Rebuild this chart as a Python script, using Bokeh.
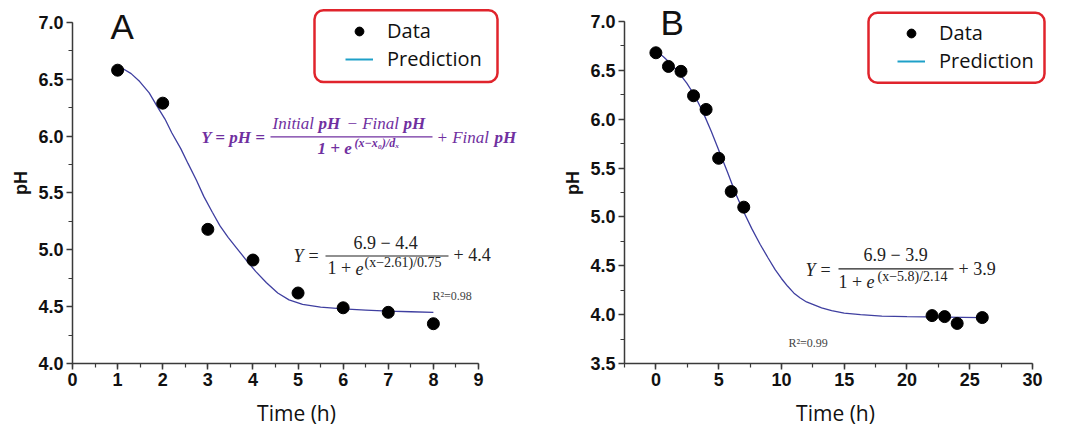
from bokeh.plotting import figure
from bokeh.models import (Label, Legend, LegendItem, Range1d, SingleIntervalTicker,
                          NumeralTickFormatter, BoxAnnotation)
from bokeh.layouts import row
from bokeh.embed import file_html
from bokeh.resources import INLINE

nan = float("nan")

# ---------------- data ----------------
time_a = [1, 2, 3, 4, 5, 6, 7, 8]
ph_a = [6.58, 6.29, 5.18, 4.91, 4.62, 4.49, 4.45, 4.35]
fit_time_a = [1.0, 1.13, 1.3, 1.49, 1.7, 1.88, 2.05, 2.2, 2.4, 2.56, 2.75, 2.91, 3.1, 3.27,
              3.45, 3.63, 3.85, 4.06, 4.3, 4.55, 4.8, 5.1, 5.5, 6.0, 6.5, 7.0, 7.5, 8.0]
fit_ph_a = [6.62, 6.59, 6.55, 6.48, 6.38, 6.26, 6.15, 6.03, 5.89, 5.76, 5.61, 5.47, 5.33, 5.21,
            5.11, 5.02, 4.91, 4.81, 4.71, 4.62, 4.56, 4.52, 4.495, 4.48, 4.47, 4.46, 4.455, 4.45]

time_b = [0, 1, 2, 3, 4, 5, 6, 7, 22, 23, 24, 26]
ph_b = [6.68, 6.54, 6.49, 6.24, 6.10, 5.60, 5.26, 5.10, 3.99, 3.98, 3.91, 3.97]
fit_time_b = [0, 0.6, 1.17, 1.8, 2.46, 3.1, 3.76, 4.4, 5.05, 5.7, 6.35, 7.0, 7.64, 8.3, 8.94,
              9.5, 10.0, 10.5, 11.0, 11.5, 12.0, 12.6, 13.2, 14.0, 15.0, 16.3, 18.0, 20.0, 23.0, 26.0]
fit_ph_b = [6.70, 6.64, 6.57, 6.48, 6.37, 6.24, 6.07, 5.88, 5.67, 5.46, 5.24, 5.05, 4.88, 4.72, 4.58,
            4.46, 4.37, 4.29, 4.22, 4.17, 4.13, 4.10, 4.07, 4.04, 4.015, 4.0, 3.985, 3.98, 3.975, 3.97]

legend_labels = ["Data", "Prediction"]
panel_letters = ["A", "B"]

# ---------------- styles ----------------
CURVE = "#3f3fa0"
AXIS = "#3a3a3a"
PURPLE = "#7030a0"
EQ = "#222222"
LEG_LINE = "#1ea0c8"
LEG_BORDER = "#e0242c"
SERIF = "Liberation Serif"
MID = {"Liberation Serif": 0.3375, "Open Sans": 0.388, "Liberation Sans": 0.3465}

# reference frame geometry (px) used to place annotations
FA = (72, 478, 22.3, 364.3, 0, 9, 4.0, 7.0)
FB = (624, 1032, 20.7, 362.7, -2.5, 30, 3.5, 7.0)


def to_data(F, px, py):
    left, right, top, bottom, x0, x1, y0, y1 = F
    return (x0 + (px - left) / (right - left) * (x1 - x0),
            y1 - (py - top) / (bottom - top) * (y1 - y0))


def lab(p, F, px, py, text, size, color=EQ, font=SERIF, style="normal", align="left"):
    # py is the reference baseline; convert to text middle
    x, y = to_data(F, px, py - MID[font] * size)
    p.add_layout(Label(x=x, y=y, text=text, text_font=font, text_font_size=f"{size}px",
                       text_font_style=style, text_color=color, text_align=align,
                       text_baseline="middle"))


def bar(p, F, px0, px1, py, color=EQ, width=1.2):
    x0, y = to_data(F, px0, py)
    x1, _ = to_data(F, px1, py)
    p.segment(x0=[x0], y0=[y], x1=[x1], y1=[y], line_color=color, line_width=width)


H = 433


def make_panel(width, f_left, f_right, f_top, f_bottom, x0, x_ppu, y0, y_ppu, xb, yb, x_interval):
    x_end = x0 + (f_right - f_left) / x_ppu
    y_end = y0 + (f_bottom - f_top) / y_ppu
    p = figure(width=width, height=H, x_range=Range1d(x0, x_end), y_range=Range1d(y0, y_end),
               output_backend="svg", toolbar_location=None,
               min_border_left=f_left, min_border_right=width - f_right,
               min_border_top=f_top, min_border_bottom=H - f_bottom)
    p.grid.visible = False
    p.outline_line_color = None
    p.background_fill_color = "white"
    p.border_fill_color = "white"
    p.xaxis.bounds = xb
    p.yaxis.bounds = yb
    p.xaxis.ticker = SingleIntervalTicker(interval=x_interval, num_minor_ticks=2)
    p.yaxis.ticker = SingleIntervalTicker(interval=0.5, num_minor_ticks=2)
    p.xaxis.formatter = NumeralTickFormatter(format="0")
    p.yaxis.formatter = NumeralTickFormatter(format="0.0")
    for ax in (p.xaxis[0], p.yaxis[0]):
        ax.axis_line_color = AXIS
        ax.axis_line_width = 1.5
        ax.major_tick_line_color = AXIS
        ax.major_tick_line_width = 1.5
        ax.minor_tick_line_color = AXIS
        ax.minor_tick_line_width = 1.2
        ax.major_tick_in = 0
        ax.major_tick_out = 6
        ax.minor_tick_in = 0
        ax.minor_tick_out = 4
        ax.major_label_text_font = "Liberation Sans"
        ax.major_label_text_font_style = "bold"
        ax.major_label_text_font_size = "18px"
        ax.major_label_text_color = "#111111"
        ax.major_label_standoff = 3
    p.xaxis.axis_label = "Time (h)"
    p.xaxis.axis_label_text_font = "Open Sans"
    p.xaxis.axis_label_text_font_style = "normal"
    p.xaxis.axis_label_text_font_size = "21px"
    p.xaxis.axis_label_text_color = "#111111"
    p.xaxis.axis_label_standoff = 10
    p.yaxis.axis_label = "pH"
    p.yaxis.axis_label_text_font = "Liberation Sans"
    p.yaxis.axis_label_text_font_style = "bold"
    p.yaxis.axis_label_text_font_size = "18px"
    p.yaxis.axis_label_text_color = "#111111"
    p.yaxis.axis_label_standoff = 4
    return p


def add_legend(p, F, box, vx, vy):
    # rounded red frame drawn as a box annotation, legend entries on top of it
    l, t = to_data(F, box[0], box[1])
    r, b = to_data(F, box[2], box[3])
    frame = BoxAnnotation(left=l, right=r, top=t, bottom=b, fill_color="white", fill_alpha=1.0,
                          line_color=LEG_BORDER, line_alpha=1.0, line_width=2.5)
    try:
        frame.border_radius = 9
    except Exception:
        pass
    p.add_layout(frame)
    dot = p.scatter([nan], [nan], size=9, color="black")
    ln = p.line([nan], [nan], line_color=LEG_LINE, line_width=2)
    legend = Legend(items=[LegendItem(label=legend_labels[0], renderers=[dot]),
                           LegendItem(label=legend_labels[1], renderers=[ln])],
                    location=(vx, vy), orientation="vertical", padding=0, spacing=1,
                    margin=0, glyph_width=28, glyph_height=22, label_height=22,
                    label_standoff=14, label_text_font="Open Sans",
                    label_text_font_size="20px", label_text_color="#111111",
                    border_line_color=None, background_fill_alpha=0.0)
    p.add_layout(legend)


# ---------------- panel A ----------------
pa = make_panel(548, 72, 520, 2, 364, 0, 406 / 9, 4.0, 114.0, (0, 9), (4.0, 7.0), 1)
pa.line(fit_time_a, fit_ph_a, line_color=CURVE, line_width=1.3)
pa.scatter(time_a, ph_a, size=12, color="black")
add_legend(pa, FA, (314, 10, 497, 82), 345 - 72, 364 - 73)
lab(pa, FA, 110, 38, panel_letters[0], 35, color="#111111", font="Liberation Sans")

# general equation (purple)
lab(pa, FA, 265, 143, "Y = pH =", 17, color=PURPLE, style="bold italic", align="right")
lab(pa, FA, 272, 129, "Initial", 17, color=PURPLE, style="italic")
lab(pa, FA, 318, 129, "pH", 17, color=PURPLE, style="bold italic")
lab(pa, FA, 346, 129, "\u2212 Final", 17, color=PURPLE, style="italic")
lab(pa, FA, 403, 129, "pH", 17, color=PURPLE, style="bold italic")
bar(pa, FA, 270, 432, 137, color=PURPLE)
lab(pa, FA, 317, 154, "1 + e", 17, color=PURPLE, style="bold italic")
lab(pa, FA, 354, 147, "(x\u2212x\u2080)/d\u2093", 12, color=PURPLE, style="bold italic")
lab(pa, FA, 436, 143, "+ Final", 17, color=PURPLE, style="italic")
lab(pa, FA, 494, 143, "pH", 17, color=PURPLE, style="bold italic")

# fitted equation A
lab(pa, FA, 293, 263, "Y", 18, style="italic")
lab(pa, FA, 308, 263, "=", 18)
lab(pa, FA, 353, 250, "6.9 \u2212 4.4", 18)
bar(pa, FA, 325, 448, 256.5)
lab(pa, FA, 327, 275, "1 +", 18)
lab(pa, FA, 355, 275, "e", 18, style="italic")
lab(pa, FA, 364, 268, "(x\u22122.61)/0.75", 14)
lab(pa, FA, 453, 262, "+ 4.4", 18)
lab(pa, FA, 432, 301, "R\u00b2=0.98", 12, color="#444444")

# ---------------- panel B ----------------
pb = make_panel(519, 76, 498, 2, 363, -2.5, 408 / 32.5, 3.5, 342 / 3.5, (-2.5, 30), (3.5, 7.0), 5)
pb.line(fit_time_b, fit_ph_b, line_color=CURVE, line_width=1.3)
pb.scatter(time_b, ph_b, size=12, color="black")
add_legend(pb, FB, (868, 12, 1044, 82), 897 - 624, 363 - 74)
lab(pb, FB, 660, 34, panel_letters[1], 35, color="#111111", font="Liberation Sans")

lab(pb, FB, 805, 275, "Y", 18, style="italic")
lab(pb, FB, 820, 275, "=", 18)
lab(pb, FB, 863, 260, "6.9 \u2212 3.9", 18)
bar(pb, FB, 838, 953, 268)
lab(pb, FB, 838, 287, "1 +", 18)
lab(pb, FB, 866, 287, "e", 18, style="italic")
lab(pb, FB, 877, 280, "(x\u22125.8)/2.14", 14)
lab(pb, FB, 958, 274, "+ 3.9", 18)
lab(pb, FB, 788, 346, "R\u00b2=0.99", 12, color="#444444")

layout = row(pa, pb)
open("out.html", "w").write(file_html(layout, INLINE))
